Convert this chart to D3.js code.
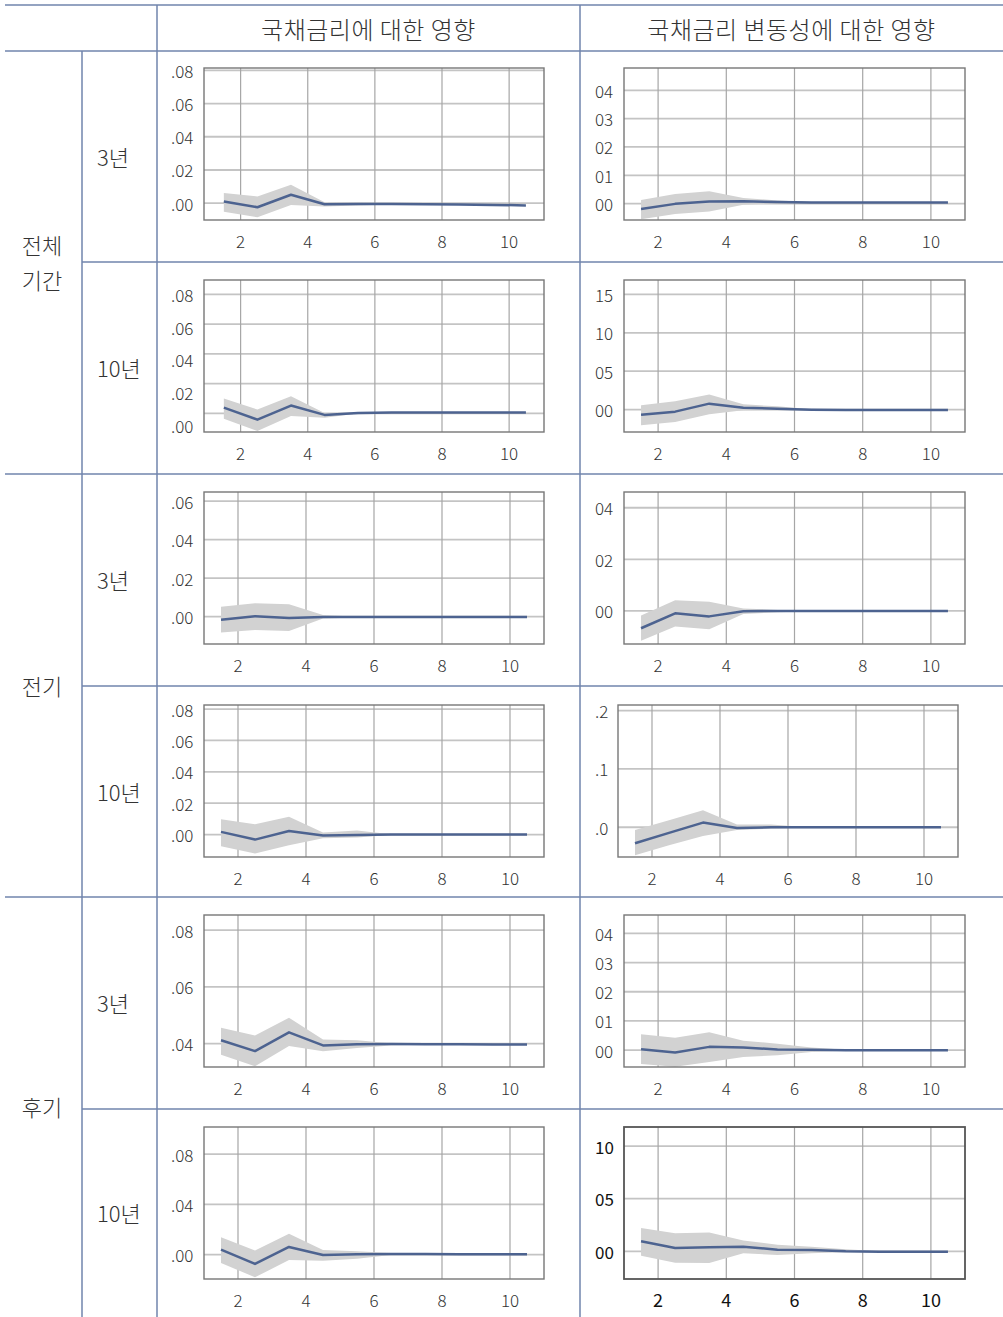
<!DOCTYPE html>
<html><head><meta charset="utf-8">
<script src="https://cdn.jsdelivr.net/npm/d3@7"></script>
<style>
body{margin:0;background:#fff}
text{font-family:"Noto Sans CJK KR","Noto Sans",sans-serif}
</style>
</head><body>
<svg id="c" width="1003" height="1317"></svg>
<script>
// ---------- labels ----------
const colHeaders = ["국채금리에 대한 영향", "국채금리 변동성에 대한 영향"];
const groupLabels = [["전체", "기간"], ["전기"], ["후기"]];
const maturityLabels = ["3년", "10년"];
const periods = [1, 2, 3, 4, 5, 6, 7, 8, 9, 10];
const xTickValues = [2, 4, 6, 8, 10];

// ---------- 전체기간 3년 ----------
const allY3_rate_mid = [0.0010, -0.0024, 0.0051, -0.0006, -0.0004, -0.0004, -0.0006, -0.0008, -0.0010, -0.0013];
const allY3_rate_hi  = [0.0061, 0.0041, 0.0111, 0.0006, 0.0005, -0.0002, -0.0004, -0.0006, -0.0008, -0.0011];
const allY3_rate_lo  = [-0.0051, -0.0085, -0.0010, -0.0020, -0.0014, -0.0007, -0.0008, -0.0010, -0.0012, -0.0015];
const allY3_rate_dom = [-0.0101, 0.0814];
const allY3_rate_ticks = [0, 0.02, 0.04, 0.06, 0.08];
const allY3_rate_tickLabels = [".00", ".02", ".04", ".06", ".08"];

const allY3_vol_mid = [-0.0019, -0.0001, 0.0007, 0.0008, 0.0006, 0.0004, 0.0004, 0.0004, 0.0004, 0.0004];
const allY3_vol_hi  = [0.0013, 0.0034, 0.0044, 0.0020, 0.0011, 0.0006, 0.0005, 0.0005, 0.0005, 0.0005];
const allY3_vol_lo  = [-0.0055, -0.0037, -0.0028, -0.0004, 0.0001, 0.0002, 0.0003, 0.0003, 0.0003, 0.0003];
const allY3_vol_dom = [-0.0058, 0.0479];
const allY3_vol_ticks = [0, 0.01, 0.02, 0.03, 0.04];
const allY3_vol_tickLabels = ["00", "01", "02", "03", "04"];

// ---------- 전체기간 10년 ----------
const allY10_rate_mid = [0.0038, -0.0043, 0.0052, -0.0011, 0.0002, 0.0005, 0.0005, 0.0005, 0.0005, 0.0005];
const allY10_rate_hi  = [0.0099, 0.0025, 0.0115, 0.0002, 0.0006, 0.0006, 0.0006, 0.0006, 0.0006, 0.0006];
const allY10_rate_lo  = [-0.0036, -0.0120, -0.0018, -0.0030, -0.0002, 0.0004, 0.0004, 0.0004, 0.0004, 0.0004];
const allY10_rate_dom = [-0.0126, 0.0897];
const allY10_rate_ticks = [0, 0.02, 0.04, 0.06, 0.08];
const allY10_rate_tickLabels = [".00", ".02", ".04", ".06", ".08"];

const allY10_vol_mid = [-0.0065, -0.0026, 0.0078, 0.0026, 0.0013, 0.0000, -0.0004, -0.0004, -0.0004, -0.0004];
const allY10_vol_hi  = [0.0057, 0.0109, 0.0196, 0.0070, 0.0043, 0.0005, -0.0002, -0.0002, -0.0002, -0.0002];
const allY10_vol_lo  = [-0.0204, -0.0160, -0.0061, -0.0009, 0.0000, -0.0004, -0.0006, -0.0006, -0.0006, -0.0006];
const allY10_vol_dom = [-0.0291, 0.1687];
const allY10_vol_ticks = [0, 0.05, 0.10, 0.15];
const allY10_vol_tickLabels = ["00", "05", "10", "15"];

// ---------- 전기 3년 ----------
const preY3_rate_mid = [-0.0016, 0.0002, -0.0007, -0.0002, -0.0002, -0.0002, -0.0002, -0.0002, -0.0002, -0.0002];
const preY3_rate_hi  = [0.0052, 0.0069, 0.0064, 0.0009, 0.0000, -0.0001, -0.0001, -0.0001, -0.0001, -0.0001];
const preY3_rate_lo  = [-0.0082, -0.0069, -0.0075, -0.0009, -0.0004, -0.0003, -0.0003, -0.0003, -0.0003, -0.0003];
const preY3_rate_dom = [-0.0142, 0.0647];
const preY3_rate_ticks = [0, 0.02, 0.04, 0.06];
const preY3_rate_tickLabels = [".00", ".02", ".04", ".06"];

const preY3_vol_mid = [-0.0067, -0.0009, -0.0021, -0.0001, 0.0000, 0.0000, 0.0000, 0.0000, 0.0000, 0.0000];
const preY3_vol_hi  = [-0.0018, 0.0042, 0.0036, 0.0010, 0.0004, 0.0001, 0.0001, 0.0001, 0.0001, 0.0001];
const preY3_vol_lo  = [-0.0115, -0.0060, -0.0071, -0.0012, -0.0005, -0.0001, -0.0001, -0.0001, -0.0001, -0.0001];
const preY3_vol_dom = [-0.0128, 0.0461];
const preY3_vol_ticks = [0, 0.02, 0.04];
const preY3_vol_tickLabels = ["00", "02", "04"];

// ---------- 전기 10년 ----------
const preY10_rate_mid = [0.0017, -0.0032, 0.0023, -0.0006, -0.0002, 0.0000, 0.0000, 0.0000, 0.0000, 0.0000];
const preY10_rate_hi  = [0.0098, 0.0066, 0.0113, 0.0013, 0.0026, 0.0002, 0.0002, 0.0002, 0.0002, 0.0002];
const preY10_rate_lo  = [-0.0074, -0.0121, -0.0068, -0.0023, -0.0019, -0.0002, -0.0002, -0.0002, -0.0002, -0.0002];
const preY10_rate_dom = [-0.0143, 0.0826];
const preY10_rate_ticks = [0, 0.02, 0.04, 0.06, 0.08];
const preY10_rate_tickLabels = [".00", ".02", ".04", ".06", ".08"];

const preY10_vol_mid = [-0.0275, -0.0097, 0.0080, -0.0011, 0.0000, 0.0000, 0.0000, 0.0000, 0.0000, 0.0000];
const preY10_vol_hi  = [-0.0046, 0.0120, 0.0290, 0.0046, 0.0046, 0.0004, 0.0003, 0.0003, 0.0003, 0.0003];
const preY10_vol_lo  = [-0.0480, -0.0310, -0.0150, -0.0046, -0.0023, -0.0004, -0.0003, -0.0003, -0.0003, -0.0003];
const preY10_vol_dom = [-0.0510, 0.2097];
const preY10_vol_ticks = [0, 0.1, 0.2];
const preY10_vol_tickLabels = [".0", ".1", ".2"];

// ---------- 후기 3년 ----------
const postY3_rate_mid = [0.0412, 0.0374, 0.0440, 0.0394, 0.0398, 0.0399, 0.0398, 0.0398, 0.0397, 0.0397];
const postY3_rate_hi  = [0.0456, 0.0429, 0.0491, 0.0415, 0.0412, 0.0402, 0.0399, 0.0399, 0.0398, 0.0398];
const postY3_rate_lo  = [0.0361, 0.0321, 0.0392, 0.0373, 0.0385, 0.0394, 0.0397, 0.0397, 0.0396, 0.0396];
const postY3_rate_dom = [0.0318, 0.0853];
const postY3_rate_ticks = [0.04, 0.06, 0.08];
const postY3_rate_tickLabels = [".04", ".06", ".08"];

const postY3_vol_mid = [0.0003, -0.0008, 0.0011, 0.0009, 0.0002, 0.0001, -0.0001, -0.0001, -0.0001, -0.0001];
const postY3_vol_hi  = [0.0054, 0.0042, 0.0061, 0.0032, 0.0022, 0.0009, 0.0001, 0.0000, 0.0000, 0.0000];
const postY3_vol_lo  = [-0.0048, -0.0057, -0.0041, -0.0024, -0.0018, -0.0007, -0.0002, -0.0002, -0.0002, -0.0002];
const postY3_vol_dom = [-0.0058, 0.0463];
const postY3_vol_ticks = [0, 0.01, 0.02, 0.03, 0.04];
const postY3_vol_tickLabels = ["00", "01", "02", "03", "04"];

// ---------- 후기 10년 ----------
const postY10_rate_mid = [0.0040, -0.0074, 0.0061, -0.0003, 0.0003, 0.0005, 0.0004, 0.0003, 0.0003, 0.0003];
const postY10_rate_hi  = [0.0138, 0.0032, 0.0165, 0.0037, 0.0027, 0.0013, 0.0006, 0.0005, 0.0005, 0.0005];
const postY10_rate_lo  = [-0.0066, -0.0181, -0.0043, -0.0048, -0.0032, -0.0003, 0.0002, 0.0001, 0.0001, 0.0001];
const postY10_rate_dom = [-0.0194, 0.1015];
const postY10_rate_ticks = [0, 0.04, 0.08];
const postY10_rate_tickLabels = [".00", ".04", ".08"];

const postY10_vol_mid = [0.0095, 0.0032, 0.0038, 0.0044, 0.0016, 0.0013, 0.0000, -0.0003, -0.0003, -0.0003];
const postY10_vol_hi  = [0.0222, 0.0171, 0.0178, 0.0102, 0.0063, 0.0044, 0.0019, 0.0000, -0.0001, -0.0001];
const postY10_vol_lo  = [-0.0041, -0.0108, -0.0111, -0.0019, -0.0035, -0.0019, -0.0006, -0.0005, -0.0005, -0.0005];
const postY10_vol_dom = [-0.0263, 0.1181];
const postY10_vol_ticks = [0, 0.05, 0.10];
const postY10_vol_tickLabels = ["00", "05", "10"];

// ---------- build chart list (row, col) ----------
const charts = [
  [0,0,allY3_rate_mid,allY3_rate_lo,allY3_rate_hi,allY3_rate_dom,allY3_rate_ticks,allY3_rate_tickLabels],
  [0,1,allY3_vol_mid,allY3_vol_lo,allY3_vol_hi,allY3_vol_dom,allY3_vol_ticks,allY3_vol_tickLabels],
  [1,0,allY10_rate_mid,allY10_rate_lo,allY10_rate_hi,allY10_rate_dom,allY10_rate_ticks,allY10_rate_tickLabels],
  [1,1,allY10_vol_mid,allY10_vol_lo,allY10_vol_hi,allY10_vol_dom,allY10_vol_ticks,allY10_vol_tickLabels],
  [2,0,preY3_rate_mid,preY3_rate_lo,preY3_rate_hi,preY3_rate_dom,preY3_rate_ticks,preY3_rate_tickLabels],
  [2,1,preY3_vol_mid,preY3_vol_lo,preY3_vol_hi,preY3_vol_dom,preY3_vol_ticks,preY3_vol_tickLabels],
  [3,0,preY10_rate_mid,preY10_rate_lo,preY10_rate_hi,preY10_rate_dom,preY10_rate_ticks,preY10_rate_tickLabels],
  [3,1,preY10_vol_mid,preY10_vol_lo,preY10_vol_hi,preY10_vol_dom,preY10_vol_ticks,preY10_vol_tickLabels],
  [4,0,postY3_rate_mid,postY3_rate_lo,postY3_rate_hi,postY3_rate_dom,postY3_rate_ticks,postY3_rate_tickLabels],
  [4,1,postY3_vol_mid,postY3_vol_lo,postY3_vol_hi,postY3_vol_dom,postY3_vol_ticks,postY3_vol_tickLabels],
  [5,0,postY10_rate_mid,postY10_rate_lo,postY10_rate_hi,postY10_rate_dom,postY10_rate_ticks,postY10_rate_tickLabels],
  [5,1,postY10_vol_mid,postY10_vol_lo,postY10_vol_hi,postY10_vol_dom,postY10_vol_ticks,postY10_vol_tickLabels]
];

// ---------- layout ----------
const svg = d3.select("#c");
const W = 1003, H = 1317;
const tableColor = "#7084ad";
const textColor = "#333";
const headerTop = 5, headerBottom = 51;
const colX = [82, 157, 580];
const rowTops = [51, 262, 474, 686, 897, 1109];
const boxTops = [68, 280, 492, 705, 915, 1127];
const boxH = 152;
const colBox = [{x: 204, w: 340, lab: 171}, {x: 624, w: 341, lab: 595}];

// table lines
const tl = svg.append("g").attr("stroke", tableColor).attr("stroke-width", 1.5);
tl.append("line").attr("x1", 5).attr("x2", W).attr("y1", headerTop).attr("y2", headerTop);
tl.append("line").attr("x1", 5).attr("x2", W).attr("y1", headerBottom).attr("y2", headerBottom);
tl.append("line").attr("x1", colX[0]).attr("x2", colX[0]).attr("y1", headerBottom).attr("y2", H);
tl.append("line").attr("x1", colX[1]).attr("x2", colX[1]).attr("y1", headerTop).attr("y2", H);
tl.append("line").attr("x1", colX[2]).attr("x2", colX[2]).attr("y1", headerTop).attr("y2", H);
rowTops.slice(1).forEach((y, i) => {
  const groupEdge = (i + 1) % 2 === 0;
  tl.append("line").attr("x1", groupEdge ? 5 : colX[0]).attr("x2", W).attr("y1", y).attr("y2", y);
});

// headers
const hdrCx = [(colX[1] + colX[2]) / 2, (colX[2] + W) / 2];
colHeaders.forEach((t, i) => {
  svg.append("text").attr("x", hdrCx[i]).attr("y", (headerTop + headerBottom) / 2)
    .attr("text-anchor", "middle").attr("dominant-baseline", "central")
    .attr("font-size", 24).attr("font-weight", 300).attr("letter-spacing", 0.5)
    .attr("fill", textColor).text(t);
});

// group labels
groupLabels.forEach((lines, gi) => {
  const top = rowTops[gi * 2], bot = gi * 2 + 2 < rowTops.length ? rowTops[gi * 2 + 2] : H;
  const cy = (top + bot) / 2;
  lines.forEach((t, li) => {
    svg.append("text").attr("x", colX[0] / 2 + 1)
      .attr("y", cy + (li - (lines.length - 1) / 2) * 35 - 1)
      .attr("text-anchor", "middle").attr("dominant-baseline", "central")
      .attr("font-size", 22).attr("font-weight", 300).attr("fill", textColor).text(t);
  });
});

// maturity labels
rowTops.forEach((top, ri) => {
  const bot = ri + 1 < rowTops.length ? rowTops[ri + 1] : H;
  svg.append("text").attr("x", 97).attr("y", (top + bot) / 2 - 1)
    .attr("dominant-baseline", "central")
    .attr("font-size", 22).attr("font-weight", 300).attr("fill", textColor)
    .text(maturityLabels[ri % 2]);
});

// ---------- charts ----------
charts.forEach(([ri, ci, mid, lo, hi, dom, ticks, tickLabels], k) => {
  let bx = colBox[ci].x, bw = colBox[ci].w;
  if (ri === 3 && ci === 1) { bx = 618; bw = 340; }
  const by = boxTops[ri], bh = boxH;
  const last = (ri === 5 && ci === 1);
  const g = svg.append("g").attr("transform", `translate(${bx},${by})`);

  const x = d3.scaleBand().domain(periods).range([0, bw])
    .paddingInner(0).paddingOuter(ci === 0 && ri < 2 ? 0.065 : 0.0).align(0.7);
  const cx = p => x(p) + x.bandwidth() / 2;
  const y = d3.scaleLinear().domain(dom).range([bh, 0]);

  // grid
  g.selectAll(".hg").data(ticks).join("line")
    .attr("x1", 0).attr("x2", bw).attr("y1", d => y(d)).attr("y2", d => y(d))
    .attr("stroke", "#c4c4c4").attr("stroke-width", 1.8);
  g.selectAll(".vg").data(xTickValues).join("line")
    .attr("x1", d => x(d)).attr("x2", d => x(d)).attr("y1", 0).attr("y2", bh)
    .attr("stroke", "#a6a6a6").attr("stroke-width", 1.2);

  // confidence band
  const area = d3.area().x((d, i) => cx(periods[i])).y0((d, i) => y(lo[i])).y1((d, i) => y(hi[i]));
  g.append("path").datum(mid).attr("d", area).attr("fill", "#d2d2d2");

  // response line
  const line = d3.line().x((d, i) => cx(periods[i])).y(d => y(d));
  g.append("path").datum(mid).attr("d", line).attr("fill", "none")
    .attr("stroke", "#4d6390").attr("stroke-width", 2.5).attr("stroke-linejoin", "round");

  // frame
  g.append("rect").attr("x", 0).attr("y", 0).attr("width", bw).attr("height", bh)
    .attr("fill", "none").attr("stroke", last ? "#555" : "#777").attr("stroke-width", last ? 1.8 : 1.4);

  // x tick labels
  g.selectAll(".xl").data(xTickValues).join("text")
    .attr("x", d => x(d)).attr("y", bh + 20)
    .attr("text-anchor", "middle").attr("dominant-baseline", "central")
    .attr("font-size", last ? 18 : 17).attr("font-weight", last ? 400 : 300)
    .attr("fill", last ? "#111" : textColor).text(d => d);

  // y tick labels (stretched slightly in the 전체기간 10년 chart as in source)
  const stretch = (ri === 1 && ci === 0) ? 1.1 : 1.0;
  const top = y(ticks[ticks.length - 1]);
  g.selectAll(".yl").data(ticks).join("text")
    .attr("x", colBox[ci].lab - bx)
    .attr("y", d => top + (y(d) - top) * stretch)
    .attr("dominant-baseline", "central")
    .attr("font-size", 17).attr("font-weight", last ? 400 : 300)
    .attr("fill", last ? "#111" : textColor).text((d, i) => tickLabels[i]);
});
</script>
</body></html>
